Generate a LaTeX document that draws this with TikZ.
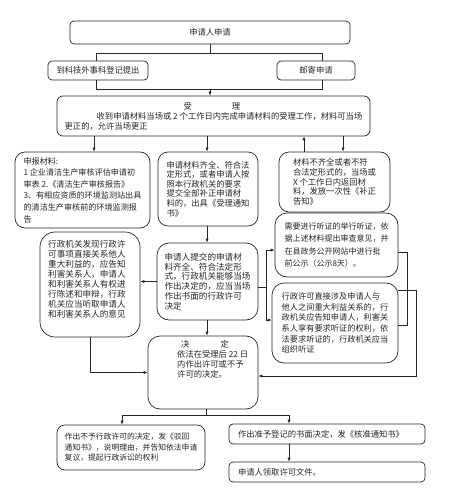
\documentclass[tikz,border=0pt]{standalone}
\usepackage{fontspec}
\newfontfamily\cjk{Noto Sans CJK SC}
\usetikzlibrary{arrows.meta}
\newcommand\myfs[2]{\cjk\fontsize{#1}{#2}\selectfont}
\begin{document}
\begin{tikzpicture}[x=1pt,y=-1pt,
  box/.style={draw=black!85, line width=0.7pt, fill=white, inner sep=0pt, align=left, text=black!85, font={\myfs{8.3}{9.6}}},
  txt/.style={inner sep=0pt, align=left, anchor=north west, text=black!85, font={\myfs{8.3}{9.6}}},
  ln/.style={draw=black!85, line width=0.7pt},
  arr/.style={ln, -{Latex[length=4pt,width=3.2pt]}}
]
\useasboundingbox (0,0) rectangle (448,489);
% bracket under the first box
\coordinate (sL) at (96,53);
\coordinate (jR) at (322,89);
\draw[ln] (sL) rectangle (jR);

% boxes
\node[box, rounded corners=4pt, minimum width=280pt, minimum height=23pt, align=center] (b1) at (210,32.5) {申请人申请};
\node[box, rounded corners=4pt, minimum width=100pt, minimum height=19pt] (b2) at (98,70.5) {到科技外事科登记提出};
\node[box, rounded corners=4pt, minimum width=78pt, minimum height=19pt] (b3) at (316,70.5) {邮寄申请};
\node[box, rounded corners=6pt, minimum width=313pt, minimum height=40pt, font={\myfs{8.3}{10}}] (b4) at (213.5,116) {\hspace*{119pt}受\hspace*{40pt}理\\ \hspace*{32pt}收到申请材料当场或 2 个工作日内完成申请材料的受理工作，材料可当场\\更正的，允许当场更正};
\node[box, rounded corners=10pt, minimum width=135pt, minimum height=76pt, font={\myfs{8.1}{11.6}}] (b5) at (82.5,190) {申报材料:\\1 企业清洁生产审核评估申请初\\审表 2.《清洁生产审核报告》\\3、有相应资质的环境监测站出具\\的清洁生产审核前的环境监测报\\告};
\node[box, rounded corners=10pt, minimum width=100pt, minimum height=74pt] (b6) at (208,189) {申请材料齐全、符合法\\定形式，或者申请人按\\照本行政机关的要求\\提交全部补正申请材\\料的，出具《受理通知\\书》};
\node[box, rounded corners=10pt, minimum width=111pt, minimum height=60pt] (b7) at (334.5,182) {材料不齐全或者不符\\合法定形式的，当场或\\X 个工作日内返回材\\料，发放一次性《补正\\告知》};
\node[box, rounded corners=15pt, minimum width=100pt, minimum height=105pt] (b8) at (90,284.5) {};
\node[txt, font={\myfs{8.6}{10}}] (t8) at (48,240) {行政机关发现行政许\\可事项直接关系他人\\重大利益的，应告知\\利害关系人，申请人\\和利害关系人有权进\\行陈述和申辩，行政\\机关应当听取申请人\\和利害关系人的意见};
\node[box, rounded corners=12pt, minimum width=101pt, minimum height=77pt, font={\myfs{8.6}{9.8}}] (b9) at (207.5,281.5) {申请人提交的申请材\\料齐全、符合法定形\\式，行政机关能够当场\\作出决定的，应当当场\\作出书面的行政许可\\决定};
\node[box, rounded corners=12pt, minimum width=123pt, minimum height=64pt, font={\myfs{8}{12.5}}] (b10) at (336.5,245) {需要进行听证的举行听证，依\\据上述材料提出审查意见，并\\在县政务公开网站中进行批\\前公示（公示8天）。};
\node[box, rounded corners=12pt, minimum width=126pt, minimum height=80pt, font={\myfs{8.2}{10.7}}] (b11) at (335,323) {行政许可直接涉及申请人与\\他人之间重大利益关系的，行\\政机关应告知申请人，利害关\\系人享有要求听证的权利，依\\法要求听证的，行政机关应当\\组织听证};
\node[box, rounded corners=12pt, minimum width=110pt, minimum height=73pt] (b12) at (203,372.5) {};
\node[txt, font={\myfs{8.3}{10}}] (t12) at (177,340) {\hspace*{4pt}决\hspace*{31pt}定\\依法在受理后 22 日\\内作出许可或不予\\许可的决定。};
\node[box, rounded corners=8pt, minimum width=148pt, minimum height=45pt, font={\myfs{7.8}{10.5}}] (b13) at (131,447.5) {作出不予行政许可的决定，发《驳回\\通知书》，说明理由，并告知依法申请\\复议，提起行政诉讼的权利};
\node[box, rounded corners=4pt, minimum width=196pt, minimum height=20pt, text width=178pt] (b14) at (327,434) {作出准予登记的书面决定，发《核准通知书》};
\node[box, rounded corners=4pt, minimum width=196pt, minimum height=20pt, text width=178pt] (b15) at (327,472) {申请人领取许可文件。};

% connectors
\draw[ln] (b1.south) -- (b1.south |- sL);
\draw[arr] (b1.south |- jR) -- (b1.south |- b4.north);
\coordinate (c94) at (94,0);
\coordinate (c207) at (207,0);
\coordinate (c304) at (304,0);
\coordinate (c343) at (343,0);
\draw[arr] (c94 |- b4.south) -- (c94 |- b5.north);
\draw[arr] (c207 |- b4.south) -- (c207 |- b6.north);
\draw[arr] (c304 |- b7.north) -- (c304 |- b4.south);
\draw[arr] (c343 |- b4.south) -- (c343 |- b7.north);
\draw[arr] (c207 |- b6.south) -- (c207 |- b9.north);
\draw[arr] (b9.west) -- (b9.west -| b8.east);
\coordinate (r0) at (266,287);
\coordinate (r1) at (266,250);
\coordinate (r2) at (266,320);
\draw[ln] (b9.east |- r0) -- (r0);
\draw[ln] (r1) -- (r2);
\draw[arr] (r1) -- (r1 -| b10.west);
\draw[arr] (r2) -- (r2 -| b11.west);
\coordinate (q1) at (407,252);
\coordinate (q2) at (407,325);
\draw[ln] (q1 -| b10.east) -- (q1) -- (q2) -- (q2 -| b11.east);
\coordinate (p1) at (416,290);
\coordinate (p2) at (416,376);
\draw[arr] (p1 -| b11.east) -- (p1) -- (p2) -- (p2 -| b12.east);
\draw[arr] (b8.south) |- (b12.west);
\draw[arr] (c207 |- b9.south) -- (c207 |- b12.north);
\coordinate (d0) at (206,415);
\coordinate (dL) at (122,415);
\coordinate (dR) at (289,415);
\draw[ln] (b12.south -| d0) -- (d0);
\draw[ln] (dL) -- (dR);
\draw[arr] (dL) -- (dL |- b13.north);
\draw[arr] (dR) -- (dR |- b14.north);
\draw[arr] (dR |- b14.south) -- (dR |- b15.north);
\end{tikzpicture}
\end{document}
